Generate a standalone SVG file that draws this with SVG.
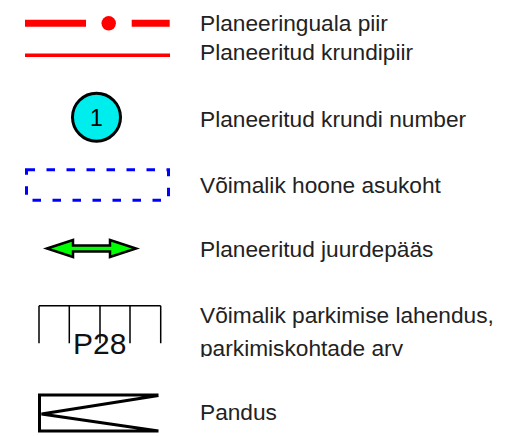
<svg xmlns="http://www.w3.org/2000/svg" width="526" height="436" viewBox="0 0 526 436">
<style>
.lbl{font-family:"Liberation Sans",Arial,sans-serif;font-size:22.7px;fill:#222}
.blk{stroke:#000;fill:none}
</style>
<defs>
<clipPath id="clipArv"><rect x="190" y="330" width="336" height="27"/></clipPath>
</defs>
<rect width="526" height="436" fill="#fff"/>
<g id="planeeringuala">
<line x1="25" y1="23.3" x2="86" y2="23.3" stroke="#f00" stroke-width="7"/>
<circle cx="108.7" cy="23.3" r="7.2" fill="#f00"/>
<line x1="131.7" y1="23.3" x2="169.7" y2="23.3" stroke="#f00" stroke-width="7"/>
<text class="lbl" x="200" y="31">Planeeringuala piir</text>
</g>
<g id="krundipiir">
<line x1="25" y1="55.3" x2="170" y2="55.3" stroke="#f00" stroke-width="3.5"/>
<text class="lbl" x="200" y="60">Planeeritud krundipiir</text>
</g>
<g id="krundinumber">
<circle cx="96.5" cy="117.2" r="24" fill="#00eded" stroke="#000" stroke-width="3"/>
<text x="96.5" y="125.5" text-anchor="middle" style="font-family:'Liberation Sans',Arial,sans-serif;font-size:23px;fill:#000">1</text>
<text class="lbl" x="200" y="126.7">Planeeritud krundi number</text>
</g>
<g id="hoone">
<rect x="26.5" y="169.8" width="142" height="30.5" fill="none" stroke="#00f" stroke-width="3" stroke-dasharray="8.5 11.5"/>
<text class="lbl" x="200" y="192.7">Võimalik hoone asukoht</text>
</g>
<g id="juurdepaas">
<polygon points="47,248.5 73,240 73,245.5 110,245.5 110,240 136,248.5 110,257 110,251.5 73,251.5 73,257" fill="#00ff00" stroke="#000" stroke-width="2.5" stroke-linejoin="miter"/>
<text class="lbl" x="200" y="256.7">Planeeritud juurdepääs</text>
</g>
<g id="parkimine">
<path class="blk" stroke-width="1.5" d="M39,305.7 H160.7 M39,305.7 V343.3 M69.3,305.7 V343.3 M100,305.7 V343.3 M130,305.7 V343.3 M160.7,305.7 V343.3"/>
<text x="73" y="354" style="font-family:'Liberation Sans',Arial,sans-serif;font-size:30px;fill:#111">P28</text>
<text class="lbl" x="200" y="322.5">Võimalik parkimise lahendus,</text>
<text class="lbl" x="200" y="356" clip-path="url(#clipArv)">parkimiskohtade arv</text>
</g>
<g id="pandus">
<path class="blk" stroke-width="3" d="M158.5,395 H39.5 V431 H158.5 M158.5,395.5 L41.5,414 L158.5,431"/>
<text class="lbl" x="200" y="420">Pandus</text>
</g>
<g id="connectors"></g>
</svg>
